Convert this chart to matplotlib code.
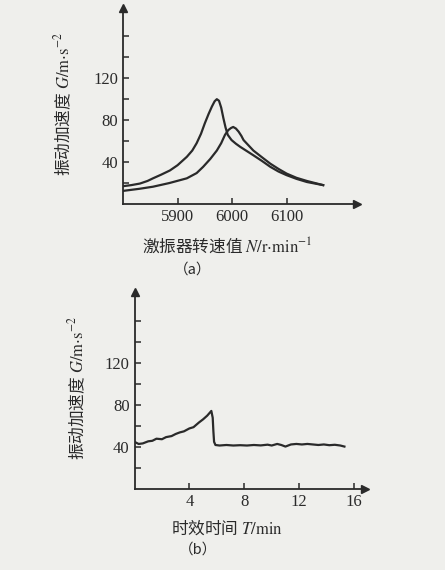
import matplotlib
matplotlib.use("Agg")
import matplotlib.pyplot as plt

plt.rcParams['font.family'] = ['Liberation Serif', 'Noto Sans CJK SC', 'DejaVu Sans']
plt.rcParams['mathtext.fontset'] = 'stix'

# (a) 激振器转速 - 振动加速度
speed_1 = [5800, 5815, 5831, 5845, 5855, 5870, 5886, 5900, 5917, 5927, 5935, 5943, 5950,
           5957, 5963, 5968, 5972, 5976, 5980, 5984, 5988, 5992, 5999, 6007, 6015, 6027,
           6039, 6055, 6070, 6085, 6100, 6118, 6137, 6152, 6167]
accel_1 = [17, 18, 19.5, 22, 24.5, 28, 32, 37, 45, 51, 58, 67, 77,
           86, 93, 98, 100, 98.5, 92, 82, 73, 66, 61, 57.5, 54.5, 50.5,
           46.5, 41, 35.5, 31, 27.5, 24, 21, 19.5, 18]
speed_2 = [5800, 5830, 5855, 5885, 5917, 5935, 5947, 5960, 5972, 5980, 5987, 5993, 5998,
           6002, 6007, 6012, 6017, 6021, 6030, 6039, 6055, 6070, 6085, 6100, 6118, 6137,
           6152, 6167]
accel_2 = [12.5, 14.5, 16.5, 20, 24.5, 29.5, 35.5, 43, 51, 58, 66, 70.5, 72.5,
           73.5, 72, 69, 65, 61, 56, 51, 44.5, 38.5, 33.5, 29, 25, 22,
           20, 18]

# (b) 时效时间 - 振动加速度
time_b = [0.0, 0.3, 0.6, 1.0, 1.3, 1.6, 2.0, 2.3, 2.7, 3.0, 3.3, 3.6, 4.0, 4.3, 4.7, 5.0,
          5.3, 5.6, 5.7, 5.75, 5.8, 5.9, 6.2, 6.7, 7.2, 7.7, 8.2, 8.7, 9.2, 9.7, 10.0,
          10.4, 10.7, 11.0, 11.4, 11.8, 12.2, 12.6, 13.0, 13.4, 13.8, 14.2, 14.6, 15.0, 15.3]
accel_b = [45, 43, 43.5, 45.5, 46, 48, 47.5, 49.5, 50.5, 52.5, 54, 55, 57.8, 59, 63.5, 66.5,
           70, 74.5, 68, 55, 45, 42, 41.5, 42, 41.5, 41.8, 41.5, 42, 41.6, 42.3, 41.5,
           43, 42, 40.5, 42.5, 43, 42.5, 43, 42.5, 42, 42.5, 41.8, 42.2, 41.5, 40.5]

W, H = 445, 570
bg = '#efefec'
ink = '#2a2a2a'
cjk = ['Noto Sans CJK SC']

fig = plt.figure(figsize=(W / 100, H / 100), dpi=100, facecolor=bg)


def make_axes(x0, x1, y_bottom, y_top):
    ax = fig.add_axes([x0 / W, 1 - y_bottom / H, (x1 - x0) / W, (y_bottom - y_top) / H])
    ax.set_facecolor(bg)
    for s in ['top', 'right']:
        ax.spines[s].set_visible(False)
    for s in ['left', 'bottom']:
        ax.spines[s].set_linewidth(1.3)
        ax.spines[s].set_color(ink)
    ax.tick_params(direction='in', length=4, width=1.1, color=ink, labelsize=12,
                   labelcolor=ink)
    ax.plot(1, 0, '>', color=ink, ms=6, transform=ax.transAxes, clip_on=False)
    ax.plot(0, 1, '^', color=ink, ms=6, transform=ax.transAxes, clip_on=False)
    return ax


ylabel = r'振动加速度 $G/\mathrm{m{\cdot}s}^{-2}$'

# (a)
ax1 = make_axes(123, 357, 204, 8)
ax1.plot(speed_1, accel_1, color=ink, lw=1.6)
ax1.plot(speed_2, accel_2, color=ink, lw=1.6)
ax1.set_xlim(5800, 6229)
ax1.set_ylim(0, 187)
ax1.set_xticks([5900, 6000, 6100])
ax1.set_yticks([20, 40, 60, 80, 100, 120, 140, 160])
ax1.set_yticklabels(['', '40', '', '80', '', '120', '', ''])
fig.text(63 / W, 1 - 104 / H, ylabel, rotation=90, ha='center', va='center',
         fontsize=12, color=ink, family=cjk)
fig.text(227 / W, 1 - 246 / H, r'激振器转速值 $N/\mathrm{r{\cdot}min}^{-1}$',
         ha='center', va='center', fontsize=12, color=ink, family=cjk)
fig.text(193 / W, 1 - 270 / H, '（a）', ha='center', va='center', fontsize=10.5, color=ink,
         family=cjk)

# (b)
ax2 = make_axes(134.5, 365, 489, 292)
ax2.plot(time_b, accel_b, color=ink, lw=1.6)
ax2.set_xlim(0, 16.8)
ax2.set_ylim(0, 188)
ax2.set_xticks([4, 8, 12, 16])
ax2.set_yticks([20, 40, 60, 80, 100, 120, 140, 160])
ax2.set_yticklabels(['', '40', '', '80', '', '120', '', ''])
fig.text(77 / W, 1 - 388 / H, ylabel, rotation=90, ha='center', va='center',
         fontsize=12, color=ink, family=cjk)
fig.text(227 / W, 1 - 528 / H, r'时效时间 $T/\mathrm{min}$', ha='center', va='center',
         fontsize=12, color=ink, family=cjk)
fig.text(198 / W, 1 - 550 / H, '（b）', ha='center', va='center', fontsize=10.5, color=ink,
         family=cjk)

fig.savefig('out.png', dpi=100, facecolor=bg)
